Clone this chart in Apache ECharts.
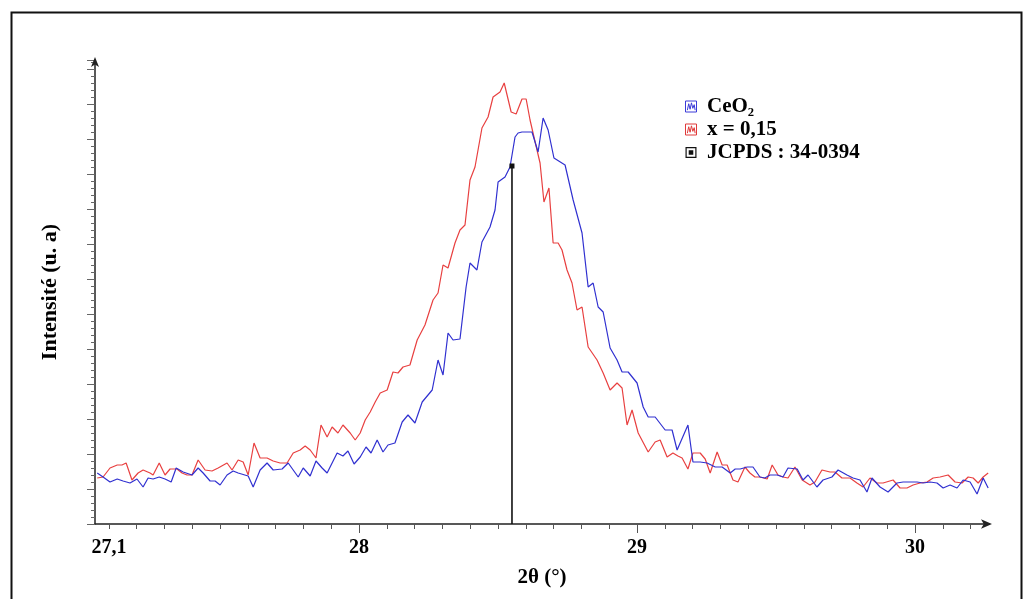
<!DOCTYPE html>
<html><head><meta charset="utf-8">
<script src="https://cdn.jsdelivr.net/npm/echarts@6/dist/echarts.min.js"></script>
<style>html,body{margin:0;padding:0;background:#fff}#c{width:1023px;height:599px}</style>
</head><body><div id="c"></div>
<script>
// CeO2 (blue)
const ceo2X = [27.058,27.079,27.104,27.130,27.151,27.176,27.201,27.223,27.241,27.259,27.281,27.302,27.324,27.342,27.367,27.399,27.421,27.439,27.464,27.482,27.500,27.525,27.547,27.565,27.601,27.619,27.644,27.669,27.691,27.723,27.745,27.781,27.799,27.824,27.845,27.867,27.885,27.921,27.942,27.960,27.982,28.004,28.025,28.043,28.065,28.086,28.104,28.129,28.155,28.176,28.201,28.227,28.263,28.284,28.302,28.320,28.338,28.363,28.385,28.399,28.424,28.442,28.471,28.489,28.500,28.525,28.543,28.561,28.572,28.586,28.622,28.644,28.662,28.680,28.701,28.741,28.770,28.802,28.824,28.842,28.860,28.878,28.903,28.928,28.946,28.968,29.000,29.022,29.040,29.065,29.101,29.126,29.144,29.183,29.201,29.227,29.252,29.281,29.306,29.335,29.353,29.371,29.396,29.417,29.442,29.460,29.478,29.504,29.525,29.543,29.576,29.597,29.615,29.647,29.669,29.701,29.723,29.755,29.777,29.802,29.827,29.845,29.874,29.903,29.935,29.957,29.982,30.007,30.029,30.054,30.079,30.101,30.126,30.151,30.173,30.198,30.223,30.245,30.263];
const ceo2Y = [51,47,42,45,43,41,45,37,46,45,47,45,42,56,52,49,56,51,43,43,39,49,53,51,48,37,54,61,54,55,61,47,56,48,63,56,51,71,68,73,60,67,77,71,84,72,79,81,102,109,101,122,134,164,149,191,184,185,237,261,254,282,297,314,342,347,357,387,391,392,392,372,406,394,366,359,324,291,237,241,217,212,176,164,152,152,141,117,107,107,94,94,74,99,62,62,61,57,57,51,55,55,57,57,47,46,49,49,47,56,55,44,49,37,44,47,54,49,46,44,32,46,37,32,41,42,42,42,41,42,41,36,39,36,44,42,30,46,36];
// x = 0,15 (red)
const x015X = [27.058,27.079,27.104,27.130,27.147,27.162,27.183,27.205,27.223,27.248,27.259,27.281,27.302,27.320,27.345,27.363,27.381,27.399,27.421,27.446,27.471,27.493,27.525,27.543,27.565,27.583,27.601,27.622,27.644,27.669,27.691,27.716,27.741,27.763,27.788,27.806,27.824,27.845,27.863,27.885,27.903,27.924,27.942,27.968,27.986,28.004,28.022,28.040,28.058,28.076,28.101,28.122,28.140,28.158,28.183,28.209,28.237,28.266,28.284,28.302,28.320,28.338,28.345,28.363,28.381,28.399,28.417,28.442,28.464,28.482,28.507,28.522,28.547,28.565,28.586,28.601,28.615,28.640,28.651,28.665,28.683,28.698,28.716,28.730,28.748,28.766,28.784,28.802,28.824,28.856,28.878,28.903,28.928,28.946,28.964,28.982,29.004,29.040,29.065,29.083,29.108,29.129,29.147,29.162,29.183,29.201,29.227,29.245,29.263,29.288,29.306,29.324,29.345,29.363,29.388,29.406,29.424,29.442,29.468,29.486,29.507,29.525,29.543,29.568,29.594,29.622,29.640,29.665,29.694,29.712,29.737,29.766,29.791,29.813,29.838,29.863,29.885,29.921,29.946,29.971,29.993,30.018,30.043,30.065,30.090,30.119,30.144,30.169,30.191,30.209,30.227,30.245,30.263];
const x015Y = [46,47,56,59,59,61,44,51,54,51,49,61,49,55,55,51,49,49,64,54,53,56,61,54,64,62,49,81,66,66,63,61,61,71,74,78,74,66,99,87,97,91,99,91,84,91,104,112,122,131,134,152,151,157,159,184,199,224,231,259,256,274,281,294,299,344,357,396,407,427,432,441,412,410,425,425,404,374,361,322,336,281,281,274,254,241,214,217,177,164,151,134,141,136,99,114,91,72,82,84,67,71,68,66,55,71,71,65,51,72,59,59,44,42,57,51,47,47,45,59,49,47,46,57,44,39,42,54,52,52,46,46,41,37,46,41,41,44,36,36,39,41,42,46,47,49,42,41,47,46,41,47,51];
// JCPDS 34-0394 reference line
const jcpdsX = [28.55, 28.55];
const jcpdsY = [0, 358];
// axis tick labels
const xTickLabels = [27.1, 28, 29, 30];
const xMajorTicks = [28, 29, 30];

const names = ['CeO\u2082', 'x = 0,15', 'JCPDS : 34-0394'];
const zip = (a, b) => a.map((v, i) => [v, b[i]]);
const xMinor = [];
for (let k = 271; k <= 302; k++) xMinor.push(k / 10);

const serif = 'Liberation Serif, Times New Roman, serif';
const chart = echarts.init(document.getElementById('c'), null, {renderer: 'canvas'});
const axisCol = '#222';
const commonX = {
  type: 'value', min: 27.05, max: 30.266, gridIndex: 0,
  splitLine: {show: false}, position: 'bottom'
};
chart.setOption({
  animation: false,
  backgroundColor: '#fff',
  grid: {left: 95, right: 34, top: 60, bottom: 75, containLabel: false},
  xAxis: [
    Object.assign({}, commonX, {
      name: '2\u03b8 (\u00b0)', nameLocation: 'middle', nameGap: 43,
      nameTextStyle: {fontFamily: serif, fontWeight: 'bold', fontSize: 21, color: '#000'},
      axisLine: {show: true, lineStyle: {color: axisCol, width: 1.5}, symbol: ['none', 'arrow'], symbolSize: [7, 11], symbolOffset: [0, 3]},
      axisTick: {show: true, length: 5, customValues: xMinor, lineStyle: {color: '#555'}},
      axisLabel: {show: true, customValues: xTickLabels, margin: 14, fontFamily: serif, fontWeight: 'bold', fontSize: 20, color: '#000',
        formatter: v => String(Math.round(v * 10) / 10).replace('.', ',')}
    }),
    Object.assign({}, commonX, {
      axisLine: {show: false},
      axisTick: {show: true, length: 9, customValues: xMajorTicks, lineStyle: {color: '#555'}},
      axisLabel: {show: false}
    })
  ],
  yAxis: [
    {
      type: 'value', min: 0, max: 464, interval: 7,
      name: 'Intensit\u00e9 (u. a)', nameLocation: 'middle', nameGap: 34, nameRotate: 90,
      nameTextStyle: {fontFamily: serif, fontWeight: 'bold', fontSize: 22, color: '#000'},
      axisLine: {show: true, lineStyle: {color: axisCol, width: 1.5}, symbol: ['none', 'arrow'], symbolSize: [6, 10], symbolOffset: [0, 3]},
      axisTick: {show: true, length: 4, lineStyle: {color: '#666'}},
      axisLabel: {show: false}, splitLine: {show: false}
    },
    {
      type: 'value', min: 0, max: 464, interval: 35, position: 'left',
      axisLine: {show: false},
      axisTick: {show: true, length: 8, lineStyle: {color: '#666'}},
      axisLabel: {show: false}, splitLine: {show: false}
    }
  ],
  legend: {
    orient: 'vertical', left: 680, top: 91, itemGap: 2, itemWidth: 22, itemHeight: 11,
    textStyle: {fontFamily: serif, fontWeight: 'bold', fontSize: 21, color: '#000'},
    selectedMode: false,
    data: [
      {name: names[0], icon: 'path://M0,0H12V12H0Z M2,10L3.5,3L5,9L6.5,2L8,8L9.5,4L10.5,10',
        itemStyle: {color: 'rgba(0,0,0,0)', borderColor: '#3a3ad8', borderWidth: 1}},
      {name: names[1], icon: 'path://M0,0H12V12H0Z M2,10L3.5,3L5,9L6.5,2L8,8L9.5,4L10.5,10',
        itemStyle: {color: 'rgba(0,0,0,0)', borderColor: '#e03a3a', borderWidth: 1}},
      {name: names[2], icon: 'path://M0,0H12V12H0Z M1.3,1.3V10.7H10.7V1.3Z M3.5,3.5H8.5V8.5H3.5Z',
        itemStyle: {color: '#111', borderWidth: 0}}
    ]
  },
  series: [
    {name: names[1], type: 'line', data: zip(x015X, x015Y), showSymbol: false, symbol: 'none',
      lineStyle: {color: '#e84040', width: 1.2}, itemStyle: {color: '#e84040'}},
    {name: names[0], type: 'line', data: zip(ceo2X, ceo2Y), showSymbol: false, symbol: 'none',
      lineStyle: {color: '#3030d0', width: 1.2}, itemStyle: {color: '#3030d0'}},
    {name: names[2], type: 'line', data: [
        {value: [jcpdsX[0], jcpdsY[0]], symbol: 'none'},
        {value: [jcpdsX[1], jcpdsY[1]], symbol: 'rect', symbolSize: 5}
      ], showSymbol: true, z: 5,
      lineStyle: {color: '#111', width: 1.6}, itemStyle: {color: '#111'}}
  ],
  graphic: [
    {type: 'rect', left: 9, top: 10, shape: {x: 0, y: 0, width: 1010, height: 600},
      style: {fill: 'none', stroke: '#111', lineWidth: 2}, silent: true, z: 100}
  ]
});
</script></body></html>
